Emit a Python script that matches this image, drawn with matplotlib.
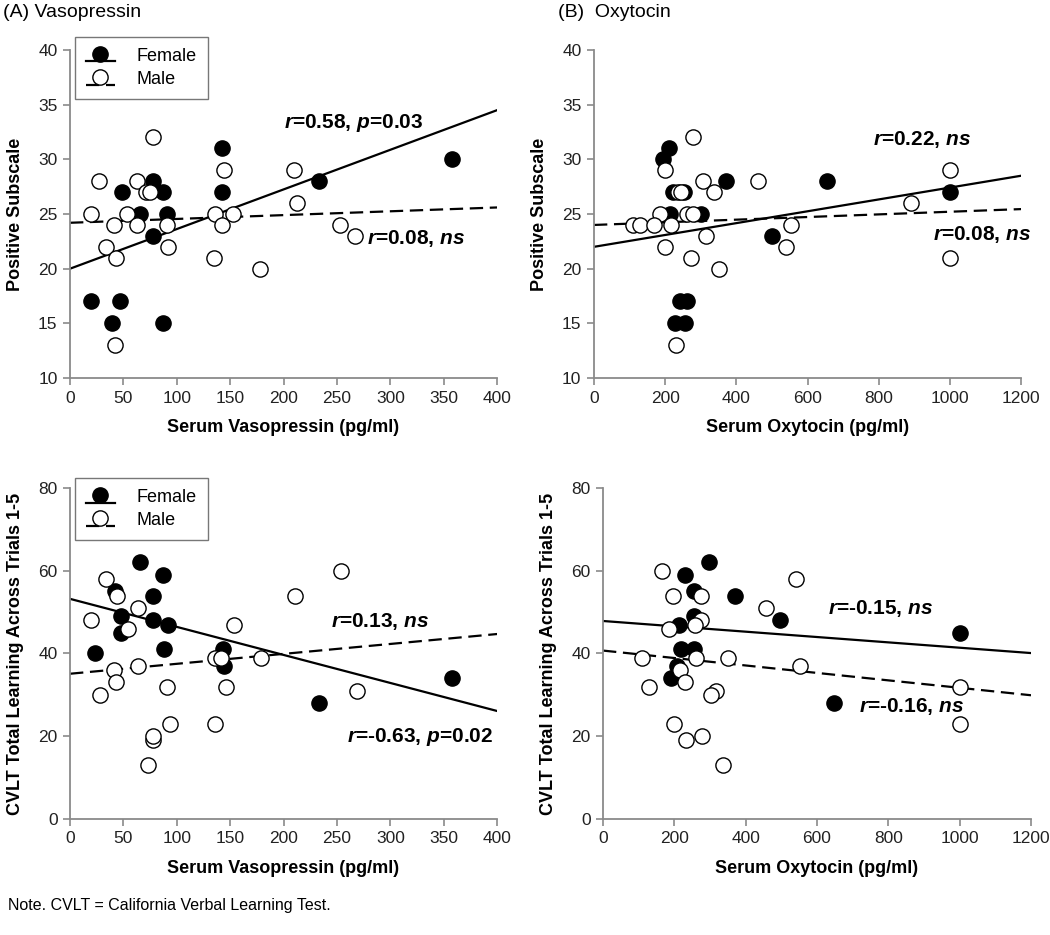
import numpy as np
import matplotlib
matplotlib.use("Agg")
import matplotlib.pyplot as plt
from matplotlib.lines import Line2D
from matplotlib.legend_handler import HandlerLine2DCompound

plt.rcParams['font.family'] = ['Liberation Sans', 'DejaVu Sans']
plt.rcParams['mathtext.fontset'] = 'custom'
plt.rcParams['mathtext.rm'] = 'Liberation Sans:bold'
plt.rcParams['mathtext.it'] = 'Liberation Sans:italic:bold'

# ---- (A) vasopressin vs positive subscale
avp_pos_f_x = [20, 47, 39, 87, 49, 78, 87, 66, 91, 78, 142, 142, 233, 358]
avp_pos_f_y = [17, 17, 15, 15, 27, 28, 27, 25, 25, 23, 31, 27, 28, 30]
avp_pos_m_x = [20, 27, 41, 53, 63, 71, 78, 63, 91, 34, 43, 92, 42, 136, 142, 144, 153,
               135, 178, 210, 213, 253, 267, 75]
avp_pos_m_y = [25, 28, 24, 25, 28, 27, 32, 24, 24, 22, 21, 22, 13, 25, 24, 29, 25,
               21, 20, 29, 26, 24, 23, 27]
avp_pos_fit_x = [0, 400]
avp_pos_fit_f = [20.0, 34.5]
avp_pos_fit_m = [24.2, 25.6]

# ---- (A) vasopressin vs CVLT
avp_cvlt_f_x = [23, 66, 87, 42, 78, 48, 48, 78, 92, 88, 143, 144, 233, 358]
avp_cvlt_f_y = [40, 62, 59, 55, 54, 49, 45, 48, 47, 41, 41, 37, 28, 34]
avp_cvlt_m_x = [20, 28, 34, 44, 41, 43, 54, 64, 64, 91, 94, 78, 78, 73, 136, 141, 146,
                136, 154, 179, 211, 254, 269]
avp_cvlt_m_y = [48, 30, 58, 54, 36, 33, 46, 51, 37, 32, 23, 19, 20, 13, 39, 39, 32,
                23, 47, 39, 54, 60, 31]
avp_cvlt_fit_x = [0, 400]
avp_cvlt_fit_f = [53.2, 26.1]
avp_cvlt_fit_m = [35.1, 44.7]

# ---- (B) oxytocin vs positive subscale
oxt_pos_f_x = [212, 193, 223, 254, 371, 654, 1000, 499, 213, 302, 242, 260, 228, 256]
oxt_pos_f_y = [31, 30, 27, 27, 28, 28, 27, 23, 25, 25, 17, 17, 15, 15]
oxt_pos_m_x = [279, 199, 235, 245, 305, 337, 460, 185, 260, 279, 109, 129, 169, 216,
               316, 553, 539, 199, 272, 351, 892, 1000, 1000, 230]
oxt_pos_m_y = [32, 29, 27, 27, 28, 27, 28, 25, 25, 25, 24, 24, 24, 24,
               23, 24, 22, 22, 21, 20, 26, 29, 21, 13]
oxt_pos_fit_x = [0, 1200]
oxt_pos_fit_f = [22.0, 28.5]
oxt_pos_fit_m = [24.0, 25.45]

# ---- (B) oxytocin vs CVLT
oxt_cvlt_f_x = [297, 229, 254, 369, 254, 213, 495, 1000, 220, 254, 207, 190, 649]
oxt_cvlt_f_y = [62, 59, 55, 54, 49, 47, 48, 45, 41, 41, 37, 34, 28]
oxt_cvlt_m_x = [166, 196, 274, 540, 458, 275, 257, 185, 110, 260, 350, 553, 215, 129,
                229, 318, 304, 1000, 1000, 198, 234, 278, 336]
oxt_cvlt_m_y = [60, 54, 54, 58, 51, 48, 47, 46, 39, 39, 39, 37, 36, 32,
                33, 31, 30, 32, 23, 23, 19, 20, 13]
oxt_cvlt_fit_x = [0, 1200]
oxt_cvlt_fit_f = [47.85, 40.1]
oxt_cvlt_fit_m = [40.7, 29.9]

AXIS_GRAY = '#8a8a8a'
DASH = (0, (6, 3))


class UnderLineHandler(HandlerLine2DCompound):
    # marker sits on top, line drawn just under it (as in the original figure)
    def create_artists(self, legend, orig_handle, xdescent, ydescent, width, height,
                       fontsize, trans):
        line, marker = super().create_artists(legend, orig_handle, xdescent, ydescent,
                                              width, height, fontsize, trans)
        line.set_ydata(np.asarray(line.get_ydata()) - 0.55 * height)
        marker.set_ydata(np.asarray(marker.get_ydata()) + 0.05 * height)
        return [line, marker]


def panel(ax, fx, fy, mx, my, fit_x, fit_f, fit_m, xlim, xstep, ylim, ystep, xlabel, ylabel):
    ax.plot(fit_x, fit_f, color='black', lw=1.6, zorder=2)
    ax.plot(fit_x, fit_m, color='black', lw=1.6, linestyle=DASH, zorder=2)
    ax.scatter(fx, fy, s=120, c='black', edgecolors='black', linewidths=1.0, zorder=3)
    ax.scatter(mx, my, s=120, c='white', edgecolors='black', linewidths=1.0, zorder=3)
    ax.set_xlim(*xlim)
    ax.set_ylim(*ylim)
    ax.set_xticks(np.arange(xlim[0], xlim[1] + 1, xstep))
    ax.set_yticks(np.arange(ylim[0], ylim[1] + 1, ystep))
    for s in ['top', 'right']:
        ax.spines[s].set_visible(False)
    for s in ['left', 'bottom']:
        ax.spines[s].set_color(AXIS_GRAY)
        ax.spines[s].set_linewidth(1.3)
    ax.tick_params(direction='out', length=5, width=1.2, color=AXIS_GRAY,
                   labelsize=12.5, labelcolor='#222222', pad=4)
    ax.set_xlabel(xlabel, fontsize=13, fontweight='bold', labelpad=10)
    ax.set_ylabel(ylabel, fontsize=13, fontweight='bold', labelpad=10)


def add_legend(ax, top):
    h_f = Line2D([], [], color='black', lw=1.6, marker='o', markersize=11,
                 markerfacecolor='black', markeredgecolor='black')
    h_m = Line2D([], [], color='black', lw=1.6, linestyle=DASH, marker='o', markersize=11,
                 markerfacecolor='white', markeredgecolor='black')
    leg = ax.legend([h_f, h_m], ['Female', 'Male'], loc='upper left',
                    bbox_to_anchor=(0.012, top), fontsize=13, frameon=True,
                    fancybox=False, edgecolor='#555555', handlelength=1.6,
                    handletextpad=1.2, borderpad=0.6, labelspacing=0.35,
                    borderaxespad=0, handler_map={Line2D: UnderLineHandler()})
    leg.get_frame().set_linewidth(1.0)


def note(ax, x, y, txt):
    ax.text(x, y, txt, fontsize=15, fontweight='bold', ha='left', va='center', zorder=4)


fig = plt.figure(figsize=(10.5, 9.35), dpi=100)
ax1 = fig.add_axes([0.0667, 0.5957, 0.4067, 0.3508])
ax2 = fig.add_axes([0.5657, 0.5957, 0.4067, 0.3508])
ax3 = fig.add_axes([0.0667, 0.1241, 0.4067, 0.354])
ax4 = fig.add_axes([0.5743, 0.1241, 0.4076, 0.354])

panel(ax1, avp_pos_f_x, avp_pos_f_y, avp_pos_m_x, avp_pos_m_y, avp_pos_fit_x,
      avp_pos_fit_f, avp_pos_fit_m, (0, 400), 50, (10, 40), 5,
      'Serum Vasopressin (pg/ml)', 'Positive Subscale')
panel(ax2, oxt_pos_f_x, oxt_pos_f_y, oxt_pos_m_x, oxt_pos_m_y, oxt_pos_fit_x,
      oxt_pos_fit_f, oxt_pos_fit_m, (0, 1200), 200, (10, 40), 5,
      'Serum Oxytocin (pg/ml)', 'Positive Subscale')
panel(ax3, avp_cvlt_f_x, avp_cvlt_f_y, avp_cvlt_m_x, avp_cvlt_m_y, avp_cvlt_fit_x,
      avp_cvlt_fit_f, avp_cvlt_fit_m, (0, 400), 50, (0, 80), 20,
      'Serum Vasopressin (pg/ml)', 'CVLT Total Learning Across Trials 1-5')
panel(ax4, oxt_cvlt_f_x, oxt_cvlt_f_y, oxt_cvlt_m_x, oxt_cvlt_m_y, oxt_cvlt_fit_x,
      oxt_cvlt_fit_f, oxt_cvlt_fit_m, (0, 1200), 200, (0, 80), 20,
      'Serum Oxytocin (pg/ml)', 'CVLT Total Learning Across Trials 1-5')

add_legend(ax1, 1.04)
add_legend(ax3, 1.03)

note(ax1, 200, 33.3, r'$r$=0.58, $p$=0.03')
note(ax1, 278, 22.8, r'$r$=0.08, $ns$')
note(ax3, 244, 47.8, r'$r$=0.13, $ns$')
note(ax3, 259, 19.8, r'$r$=-0.63, $p$=0.02')
note(ax2, 785, 31.8, r'$r$=0.22, $ns$')
note(ax2, 953, 23.1, r'$r$=0.08, $ns$')
note(ax4, 631, 50.9, r'$r$=-0.15, $ns$')
note(ax4, 718, 27.3, r'$r$=-0.16, $ns$')

fig.text(0.003, 0.987, '(A) Vasopressin', fontsize=14, ha='left', va='center')
fig.text(0.531, 0.987, '(B)  Oxytocin', fontsize=14, ha='left', va='center')
fig.text(0.008, 0.032, 'Note. CVLT = California Verbal Learning Test.', fontsize=11.5,
         ha='left', va='center')

fig.savefig('out.png', dpi=100)
